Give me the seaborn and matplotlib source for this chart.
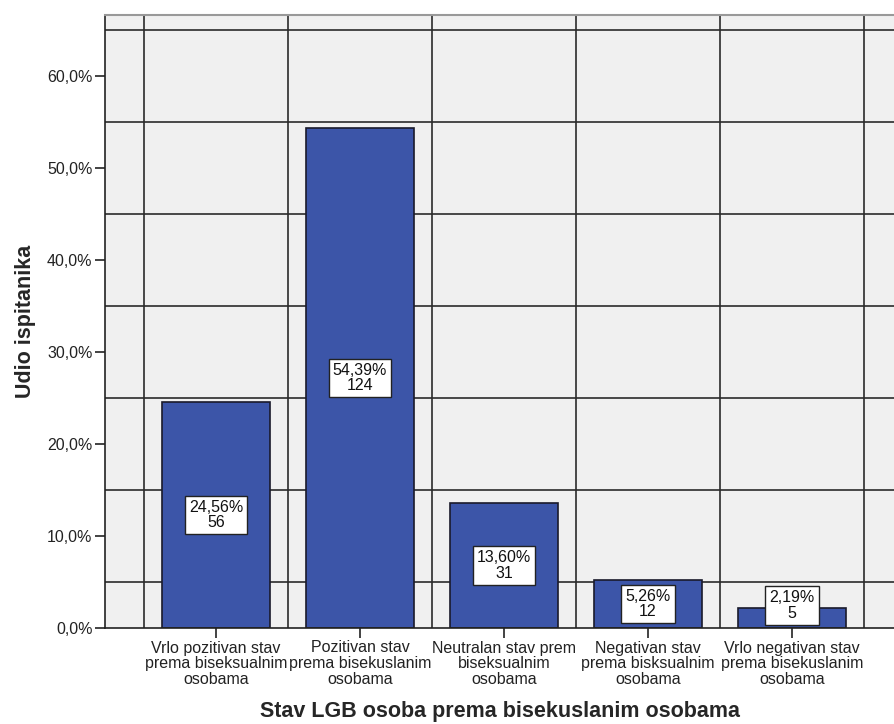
import matplotlib
matplotlib.use('Agg')
import matplotlib.pyplot as plt
import matplotlib.ticker as mticker
import seaborn as sns
import pandas as pd

categories = [
    'Vrlo pozitivan stav\nprema biseksualnim\nosobama',
    'Pozitivan stav\nprema bisekuslanim\nosobama',
    'Neutralan stav prem\nbiseksualnim\nosobama',
    'Negativan stav\nprema bisksualnim\nosobama',
    'Vrlo negativan stav\nprema bisekuslanim\nosobama',
]
percents = [24.56, 54.39, 13.60, 5.26, 2.19]
counts = [56, 124, 31, 12, 5]
ytick_vals = [0, 10, 20, 30, 40, 50, 60]
grid_y = [5, 15, 25, 35, 45, 55, 65]

df = pd.DataFrame({'kat': categories, 'pct': percents, 'n': counts})

sns.set_style('white')
plt.rcParams['font.family'] = ['Liberation Sans', 'DejaVu Sans']

fig = plt.figure(figsize=(8.95, 7.24), dpi=100)
ax = fig.add_axes([105 / 895, 1 - 628 / 724, 1 - 105 / 895, (628 - 15) / 724])
ax.set_facecolor('#f0f0f0')

# SPSS-like grid: horizontal at odd 5s, vertical between categories
for g in grid_y:
    ax.axhline(g, color='#2a2a2a', lw=1.2, zorder=1)
for i in range(len(categories) + 1):
    ax.axvline(i - 0.5, color='#2a2a2a', lw=1.2, zorder=1)

sns.barplot(data=df, x='kat', y='pct', color='#3c55a8', width=0.75,
            edgecolor='#1a1a2a', linewidth=1.2, saturation=1, ax=ax, zorder=2)

for i, (p, n) in enumerate(zip(percents, counts)):
    yy = max(p / 2, 2.45)
    ax.text(i, yy, f'{p:.2f}%'.replace('.', ',') + f'\n{n}', ha='center', va='center',
            fontsize=11.5, linespacing=1.05, zorder=4, color='#111111',
            bbox=dict(boxstyle='square,pad=0.25', fc='white', ec='#222222', lw=1))

ax.set_xlim(-0.771, (895 - 216) / 144)
ax.set_ylim(0, (628 - 15) / 9.2)
ax.set_yticks(ytick_vals)
ax.yaxis.set_major_formatter(mticker.FuncFormatter(lambda v, _: f'{v:.1f}%'.replace('.', ',')))
ax.tick_params(axis='both', direction='out', length=7, width=1.2, color='#222222',
               labelsize=11.5, labelcolor='#222222', left=True, bottom=True, pad=2)
for lab in ax.get_xticklabels():
    lab.set_linespacing(1.05)

for s in ['left', 'bottom']:
    ax.spines[s].set_color('#222222')
    ax.spines[s].set_linewidth(1.2)
ax.spines['top'].set_color('#999999')
ax.spines['top'].set_linewidth(1.5)
ax.spines['right'].set_visible(False)

ax.set_xlabel('Stav LGB osoba prema bisekuslanim osobama', fontsize=15.5, fontweight='bold', labelpad=10)
ax.set_ylabel('Udio ispitanika', fontsize=15.5, fontweight='bold', labelpad=8)

fig.savefig('out.png', dpi=100)
